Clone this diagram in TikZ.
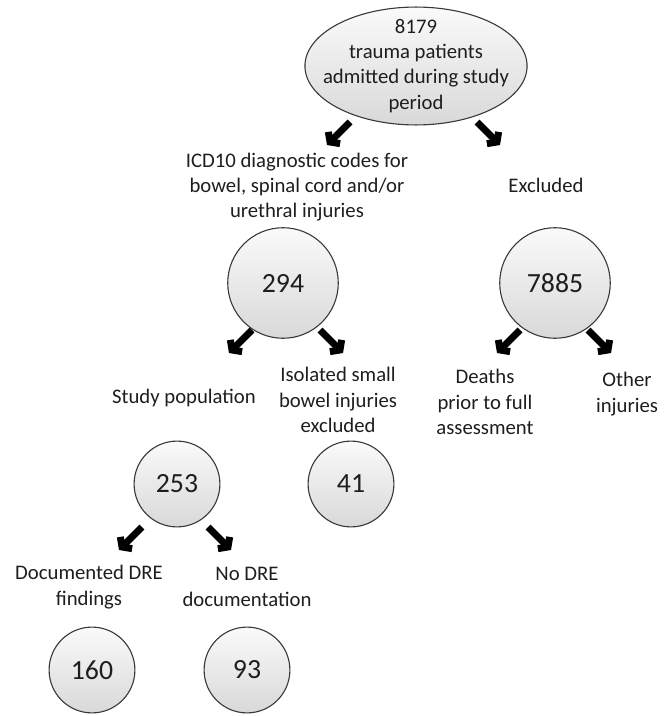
\documentclass[tikz,border=0pt]{standalone}
\usepackage{fontspec}
\setmainfont{Carlito}
\definecolor{fcborder}{HTML}{3A3A3A}
\definecolor{fctext}{HTML}{1E1E1E}
\usetikzlibrary{arrows.meta, shapes.geometric}
\tikzset{
	fcball/.style={circle, draw=fcborder, line width=0.6pt, top color=gray!4,
		bottom color=gray!30, minimum size=2.1cm, inner sep=0pt,
		font=\fontsize{15}{18}\selectfont, text=fctext},
	fcsmall/.style={fcball, minimum size=1.63cm},
	fclabel/.style={align=center, inner sep=0pt, text=fctext,
		font=\fontsize{11.2}{13.6}\selectfont},
	darr/.style={-{Straight Barb[length=3.2pt, width=9pt, line width=3.8pt]},
		line width=3.8pt, draw=black}
}

\begin{document}
\begin{tikzpicture}[x=0.019cm, y=-0.019cm]
	\useasboundingbox (0,0) rectangle (670,716);
	% top of the flow
	\node[ellipse, draw=fcborder, line width=0.6pt, top color=gray!4, bottom color=gray!30,
		minimum width=4.22cm, minimum height=2.24cm, inner xsep=-12pt, inner ysep=-6pt,
		align=center, text=fctext, font=\fontsize{11.2}{13.6}\selectfont]
		(root) at (416,66) {8179\\trauma patients\\admitted during study\\period};
	\node[fclabel] (icd) at (297,187) {ICD10 diagnostic codes for\\bowel, spinal cord and/or\\urethral injuries};
	\node[fclabel] (excl) at (546,185) {Excluded};
	\node[fcball] (c294) at (283,283) {294};
	\node[fcball] (c7885) at (555,283) {7885};
	% second level
	\node[fclabel] (study) at (184,398) {Study population};
	\node[fclabel] (isol) at (338,400) {Isolated small\\bowel injuries\\excluded};
	\node[fclabel] (deaths) at (485,402) {Deaths\\prior to full\\assessment};
	\node[fclabel] (other) at (627,394) {Other\\injuries};
	\node[fcsmall] (c253) at (177,484) {253};
	\node[fcsmall] (c41) at (351,484) {41};
	% DRE split
	\node[fclabel] (docdre) at (89,587) {Documented DRE\\findings};
	\node[fclabel] (nodre) at (247,587) {No DRE\\documentation};
	\node[fcsmall] (c160) at (92,670) {160};
	\node[fcsmall] (c93) at (247,670) {93};
	% arrows
	\draw[darr] ([shift={(-66,56)}]root.center) -- ++(-23,23);
	\draw[darr] ([shift={(61,56)}]root.center) -- ++(23,23);
	\draw[darr] ([shift={(-31,47)}]c294.center) -- ++(-23,23);
	\draw[darr] ([shift={(37,47)}]c294.center) -- ++(23,23);
	\draw[darr] ([shift={(-35,47)}]c7885.center) -- ++(-23,23);
	\draw[darr] ([shift={(33,47)}]c7885.center) -- ++(23,23);
	\draw[darr] ([shift={(-35,43)}]c253.center) -- ++(-23,23);
	\draw[darr] ([shift={(31,43)}]c253.center) -- ++(23,23);
\end{tikzpicture}
\end{document}
